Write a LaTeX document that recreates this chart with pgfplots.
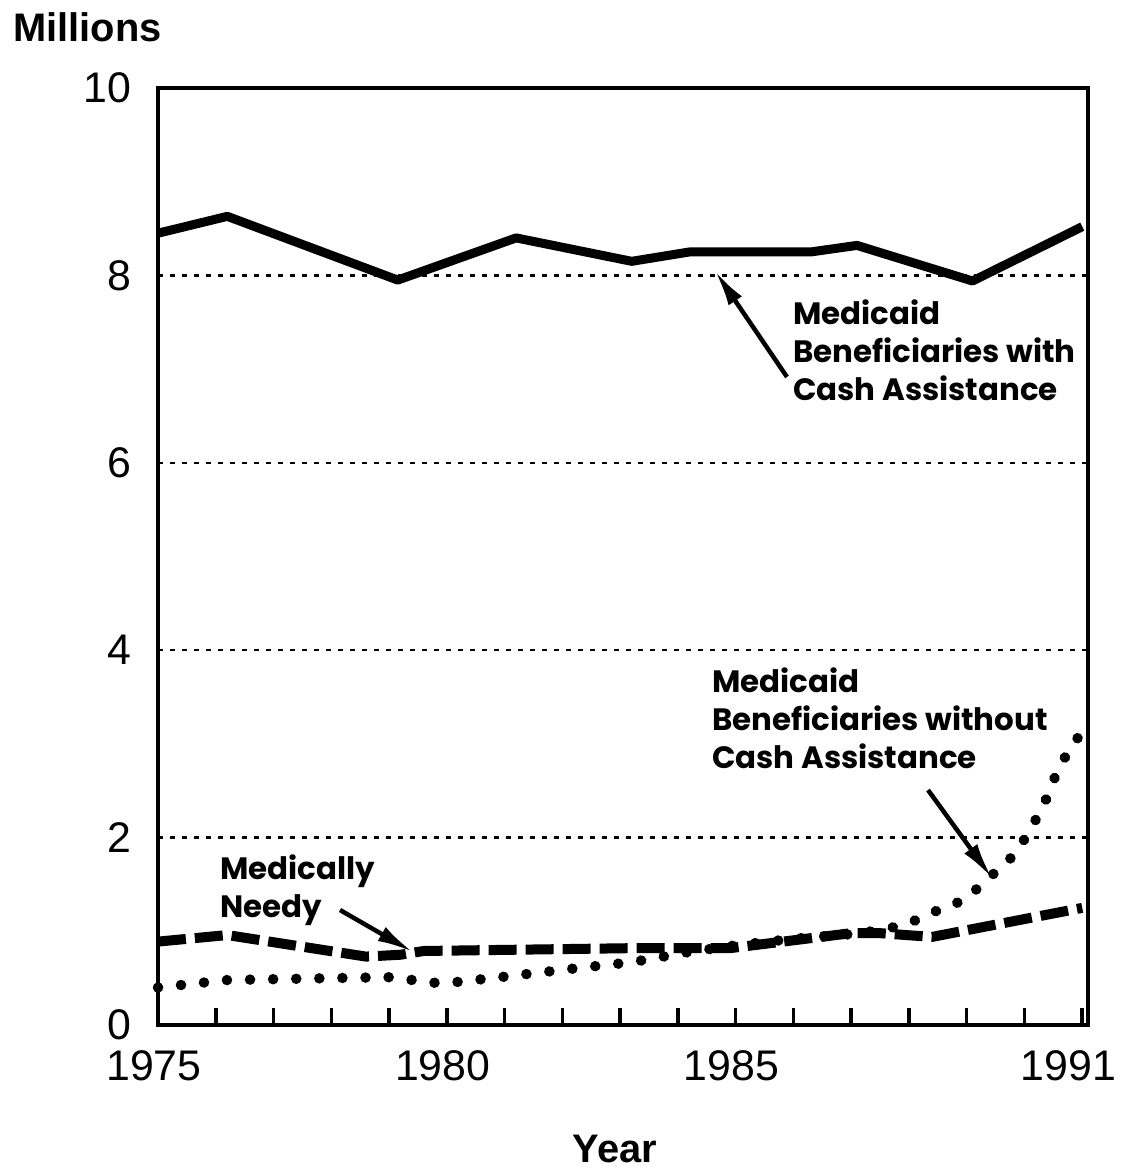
\documentclass[border=0pt]{standalone}
\usepackage{fontspec}
\setmainfont{Liberation Sans}
\newfontfamily\popfont{Poppins}
\usepackage{pgfplots}
\pgfplotsset{compat=1.18}
\usetikzlibrary{arrows.meta}
\newcommand\agfont{\popfont\bfseries\fontsize{31}{38}\selectfont}
\begin{document}
\begin{tikzpicture}[x=1bp,y=1bp]
\useasboundingbox (-158,-147) rectangle (968,1025);
\begin{axis}[
  at={(0,0)}, anchor=south west,
  scale only axis, width=930bp, height=937bp,
  xmin=1975, xmax=1991.1, ymin=0, ymax=10,
  axis line style={line width=4bp},
  xtick={1975,1980,1985,1991},
  minor xtick={1976,1977,1978,1979,1981,1982,1983,1984,1986,1987,1988,1989,1990},
  xticklabels={1975,1980,1985,{\kern-20bp 1991}},
  ytick={0,2,4,6,8,10},
  xtick pos=bottom, ytick pos=left,
  tick align=inside,
  major tick length=17bp, minor tick length=17bp,
  xtick style={line width=3.5bp, black},
  minor tick style={line width=3.5bp, black},
  ytick style={draw=none},
  ymajorgrids,
  grid style={black, line width=2.5bp, dash pattern=on 5bp off 7bp, shorten <=14bp, shorten >=6bp},
  tick label style={font=\fontsize{43}{48}\selectfont},
  /pgf/number format/assume math mode=true,
  xticklabel style={yshift=-22bp, xshift=-4bp},
  yticklabel style={xshift=-23bp},
  clip=false,
]
% Medicaid beneficiaries with cash assistance
\addplot[black, line width=9bp, line join=round] coordinates {
(1975.0,8.45) (1976.2,8.63) (1979.15,7.95) (1981.2,8.40) (1983.2,8.15) (1984.2,8.25) (1986.3,8.25) (1987.1,8.32) (1989.1,7.94) (1991.0,8.52)
};
% Medically needy
\addplot[black, line width=10bp, dash pattern=on 28bp off 9bp] coordinates {
(1975.0,0.89) (1976.2,0.96) (1978.6,0.73) (1979.2,0.75) (1979.6,0.79) (1983.2,0.82) (1984.9,0.82) (1987.0,0.98) (1987.5,0.98) (1988.4,0.94) (1991.0,1.25)
};
% Medicaid beneficiaries without cash assistance
\addplot[black, line width=10.5bp, line cap=round, dash pattern=on 0.1bp off 23bp] coordinates {
(1975.0,0.40) (1976.2,0.48) (1978.0,0.50) (1979.0,0.51) (1979.8,0.45) (1980.2,0.46) (1981.2,0.53) (1982.3,0.61) (1983.2,0.67) (1984.2,0.78) (1985.0,0.85) (1986.0,0.92) (1987.0,0.97) (1987.6,1.02) (1988.05,1.10) (1988.4,1.20) (1988.8,1.29) (1989.1,1.41) (1989.4,1.58) (1989.65,1.71) (1989.9,1.87) (1990.1,2.10) (1990.3,2.29) (1990.45,2.53) (1990.6,2.75) (1990.8,2.96) (1991.0,3.13)
};
\end{axis}
\node[anchor=base west, inner sep=0, font=\fontsize{40}{44}\selectfont\bfseries] at (-145,983) {Millions};
\node[anchor=base, inner sep=0, font=\fontsize{40}{44}\selectfont\bfseries] at (457,-137) {Year};
\node[anchor=west, inner sep=0, align=left, font=\agfont] at (635,675) {Medicaid\\Beneficiaries with\\Cash Assistance};
\node[anchor=west, inner sep=0, align=left, font=\agfont] at (554,307) {Medicaid\\Beneficiaries without\\Cash Assistance};
\node[anchor=west, inner sep=0, align=left, font=\agfont] at (62,135) {Medically\\Needy};
\draw[line width=4.5bp, -{Latex[length=36bp,width=16bp]}] (629,648) -- (557,754);
\draw[line width=4.5bp, -{Latex[length=36bp,width=16bp]}] (770,235) -- (834,147);
\draw[line width=4.5bp, -{Latex[length=36bp,width=16bp]}] (182,115) -- (255,73);
\end{tikzpicture}
\end{document}
